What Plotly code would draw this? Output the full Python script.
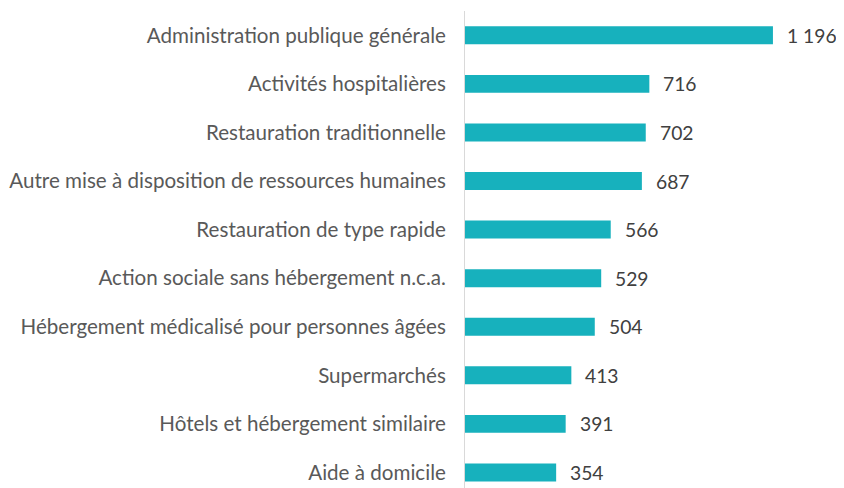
import plotly.graph_objects as go

categories = [
    "Administration publique générale",
    "Activités hospitalières",
    "Restauration traditionnelle",
    "Autre mise à disposition de ressources humaines",
    "Restauration de type rapide",
    "Action sociale sans hébergement n.c.a.",
    "Hébergement médicalisé pour personnes âgées",
    "Supermarchés",
    "Hôtels et hébergement similaire",
    "Aide à domicile",
]
values = [1196, 716, 702, 687, 566, 529, 504, 413, 391, 354]
value_labels = ["1 196", "716", "702", "687", "566", "529", "504", "413", "391", "354"]

BAR_COLOR = "#17B1BD"
FONT = "Lato"

fig = go.Figure(
    go.Bar(
        x=values,
        y=categories,
        orientation="h",
        marker=dict(color=BAR_COLOR, line=dict(width=0)),
        width=0.37,
        hoverinfo="x+y",
    )
)

for c, v, t in zip(categories, values, value_labels):
    fig.add_annotation(
        x=v, y=c, xref="x", yref="y", text=t, showarrow=False,
        xanchor="left", yanchor="middle", xshift=12,
        font=dict(family=FONT, size=19.3, color="#404040"),
    )

# page body has an 8px margin: offset figure accordingly
fig.update_layout(
    width=844, height=480,
    margin=dict(l=457, r=8, t=3, b=0, autoexpand=False),
    paper_bgcolor="white", plot_bgcolor="white",
    showlegend=False,
    font=dict(family=FONT, color="#595959"),
)
fig.update_xaxes(range=[0, 1472], visible=False, showgrid=False, zeroline=False,
                 automargin=False)
fig.update_yaxes(
    categoryorder="array", categoryarray=categories,
    range=[9.32, -0.5], showgrid=False, zeroline=False,
    showline=True, linecolor="#D9D9D9", linewidth=1,
    ticks="", ticklabelstandoff=14, automargin=False,
    tickfont=dict(family=FONT, size=20.6, color="#595959"),
)

fig.write_html("out.html")
